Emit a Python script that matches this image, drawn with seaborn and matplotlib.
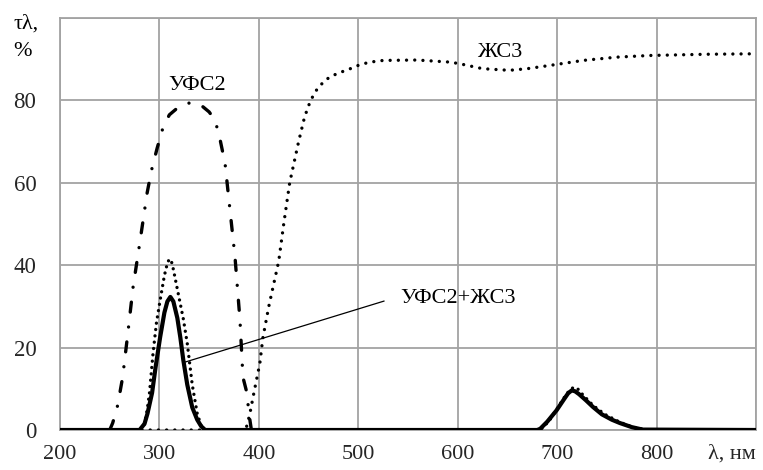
import matplotlib
matplotlib.use("Agg")
import matplotlib.pyplot as plt
import seaborn as sns
import pandas as pd

# ---- data ----
ufs2_x = [250, 253, 258, 263, 268, 273.5, 280.6, 287.6, 292, 297.7, 303.7, 310, 318.8,
          326, 334, 342, 350, 356, 361, 366, 371, 376, 381, 384, 388, 390, 392.5]
ufs2_y = [0, 1.7, 6, 12.8, 23, 34.7, 46, 57.5, 63, 68.4, 73.5, 76.5, 78.3,
          79.2, 79.5, 78.8, 77.2, 75.2, 70.5, 64.7, 53.3, 42, 26.7, 12.8, 9, 4, 0]

zhs3_x = [200, 282, 385, 388, 391, 395, 401, 404, 410, 415, 420, 425, 431, 440, 446, 452, 458,
          465, 472, 482, 492, 502, 512, 525, 559, 592, 602, 625, 652, 670, 693, 726, 760, 793,
          850, 894, 900]
zhs3_y = [0, 0, 0, 1, 4, 9, 16.2, 22.3, 30, 35.5, 41, 50, 60, 70, 76, 80, 82.5,
          84.5, 85.8, 86.8, 87.7, 88.7, 89.3, 89.7, 89.8, 89.3, 88.9, 87.7, 87.3, 87.7, 88.5,
          89.7, 90.5, 90.9, 91.2, 91.3, 91.3]

# dotted bumps (calculated product)
prod_x = [282, 285, 287.6, 290, 293.6, 297, 300.7, 305, 308, 310, 312, 314, 319, 324, 328, 333,
          338, 342, 346, 683, 692, 700, 708, 713, 717, 721, 726, 736, 748, 763, 776, 790]
prod_y = [0, 1.5, 4.8, 9, 18.7, 26, 31.5, 37.5, 40.5, 41.5, 41, 39, 33, 27, 21, 11,
          4, 1, 0, 0, 2.2, 5.2, 8.2, 9.8, 10.4, 9.9, 8.5, 6, 3.8, 1.9, 0.7, 0]

mix_x = [200, 280, 285, 288, 292.6, 296, 300.7, 305, 308, 311, 314, 318, 321, 324, 328, 333,
         338, 342, 346, 680, 683, 690, 699.5, 707, 711, 714.6, 718, 722, 729, 736, 745, 755,
         763, 775, 786, 900]
mix_y = [0, 0, 1.5, 4, 9, 15, 22.5, 28.5, 31.2, 32.3, 31.2, 27.2, 22.5, 17, 11, 5.5,
         2.5, 0.9, 0, 0, 0.3, 2, 4.8, 7.5, 8.9, 9.6, 9.4, 8.7, 7.2, 5.6, 3.8, 2.5,
         1.7, 0.7, 0.1, 0]

x_ticks = [200, 300, 400, 500, 600, 700, 800, 900]
x_labels = ["200", "300", "400", "500", "600", "700", "800", "λ, нм"]
y_ticks = [0, 20, 40, 60, 80, 100]
y_labels = ["0", "20", "40", "60", "80", ""]

label_ufs2 = ("УФС2", 338, 83.5)
label_zhs3 = ("ЖС3", 642, 91.6)
label_mix = ("УФС2+ЖС3", 542, 32)
leader_x = [326, 526]
leader_y = [16.5, 31.3]

# ---- figure ----
sns.set_style("white")
plt.rcParams["font.family"] = ["Liberation Serif", "DejaVu Serif"]
plt.rcParams["text.color"] = "black"

fig = plt.figure(figsize=(7.63, 4.70), dpi=100)
ax = fig.add_axes([60 / 763, 1 - 430 / 470, (756 - 60) / 763, (430 - 18) / 470])

df_ufs = pd.DataFrame({"x": ufs2_x, "y": ufs2_y})
df_zhs = pd.DataFrame({"x": zhs3_x, "y": zhs3_y})
df_prod = pd.DataFrame({"x": prod_x, "y": prod_y})
df_mix = pd.DataFrame({"x": mix_x, "y": mix_y})

grid_c = "#a3a3a3"
ax.set_xlim(200, 900)
ax.set_ylim(0, 100)
ax.set_xticks(x_ticks)
ax.set_yticks(y_ticks)
ax.grid(True, color=grid_c, lw=1.3)
ax.set_axisbelow(True)
for s in ax.spines.values():
    s.set_color(grid_c)
    s.set_linewidth(1.3)

sns.lineplot(data=df_mix, x="x", y="y", ax=ax, color="black", lw=3.0,
             estimator=None, sort=False, solid_capstyle="round",
             solid_joinstyle="round", zorder=3)
sns.lineplot(data=df_ufs, x="x", y="y", ax=ax, color="black", lw=2.4,
             estimator=None, sort=False, linestyle=(0, (3.0, 4.5, 0.01, 4.5)),
             dash_capstyle="round", zorder=4)
sns.lineplot(data=df_zhs, x="x", y="y", ax=ax, color="black", lw=2.4,
             estimator=None, sort=False, linestyle=(0, (0.01, 2.45)),
             dash_capstyle="round", zorder=4)
sns.lineplot(data=df_prod, x="x", y="y", ax=ax, color="black", lw=2.4,
             estimator=None, sort=False, linestyle=(0, (0.01, 1.9)),
             dash_capstyle="round", zorder=4)

ax.plot(leader_x, leader_y, color="black", lw=0.9, zorder=5)
ax.text(label_mix[1], label_mix[2], label_mix[0], fontsize=16, ha="left", va="center")
ax.text(label_ufs2[1], label_ufs2[2], label_ufs2[0], fontsize=16, ha="center", va="center")
ax.text(label_zhs3[1], label_zhs3[2], label_zhs3[0], fontsize=16, ha="center", va="center")

ax.set_xticklabels(x_labels, fontsize=16)
ax.set_yticklabels(y_labels, fontsize=16.5)
ax.get_xticklabels()[-1].set_ha("right")
ax.tick_params(axis="x", length=0, pad=10.5)
ax.tick_params(axis="y", length=0, pad=17)
ax.set_xlabel("")
ax.set_ylabel("")

fig.text(13 / 763, 1 - 24 / 470, "τλ,", fontsize=16, ha="left", va="center")
fig.text(13 / 763, 1 - 52 / 470, "%", fontsize=16, ha="left", va="center")

fig.savefig("out.png", dpi=100)
